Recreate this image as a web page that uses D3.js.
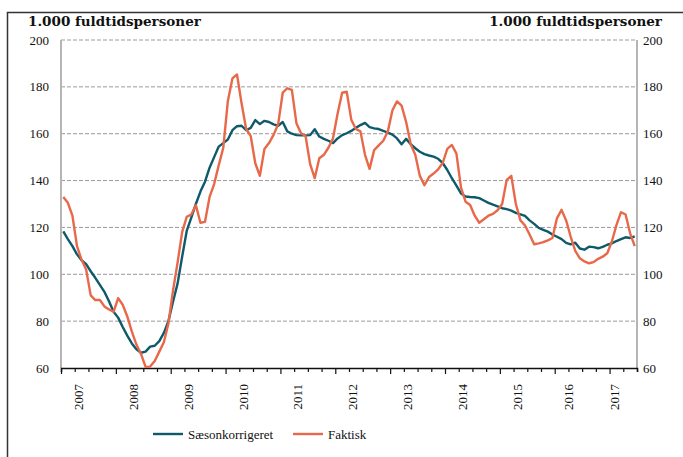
<!DOCTYPE html>
<html>
<head>
<meta charset="utf-8">
<script src="https://cdnjs.cloudflare.com/ajax/libs/d3/7.8.5/d3.min.js"></script>
<style>
  body { margin: 0; background: #fff; }
  text { font-family: "Liberation Serif", "DejaVu Serif", serif; fill: #111; }
</style>
</head>
<body>
<div id="main"></div>
<script>

// monthly series, jan 2007 - jun 2017 (1.000 fuldtidspersoner)
var startYear = 2007;

var saesonkorrigeret = [
  118.3, 115, 112, 108.5, 106, 104.3, 101.3, 98.5, 95.5, 92.5, 88.5, 84,
  81.5, 77.5, 73.8, 70.5, 68, 66.5, 67, 69.1, 69.5, 71.5, 75, 80,
  88.3, 96, 107.5, 118.5, 124.2, 130, 135.3, 139.5, 145.5, 150, 154.5, 156,
  157.5, 161.5, 163.2, 163.4, 161.5, 162.5, 165.8, 164.1, 165.5, 165, 164, 163.4,
  165, 161, 160, 159.4, 159.3, 159.3, 159.4, 161.9, 158.8, 157.8, 157, 156,
  158, 159.4, 160.2, 161.2, 162.5, 163.7, 164.6, 162.8, 162.3, 162, 161.2, 160.5,
  159.6, 158, 155.5, 157.8, 155.5, 153.8, 152.3, 151.3, 150.7, 150.2, 149.3, 147.5,
  144.5, 141, 137.8, 134.5, 133.2, 133, 132.9, 132.5, 131.5, 130.5, 129.7, 129,
  128.2, 127.8, 127.2, 126.2, 125.6, 124.9, 123, 121.5, 119.8, 119, 118.2, 117,
  116, 115, 113.4, 112.8, 113.5, 111, 110.5, 111.8, 111.6, 111.1, 111.7, 112.6,
  113.2, 114.2, 115, 115.8, 115.5, 116.2
];

var faktisk = [
  133, 130.5, 125, 112, 106.2, 102, 91, 89, 89, 86.3, 85, 84,
  89.8, 87, 82, 75.5, 70, 66, 60.5, 60.6, 63, 67, 71, 79,
  93, 105, 118, 124.5, 125.5, 129.5, 122, 122.4, 133, 138.5, 146.5, 154,
  174, 183.6, 185.3, 173, 162, 159, 147.4, 142, 153.5, 156, 159.5, 164,
  177.5, 179.4, 178.7, 164.5, 160.2, 159, 147, 141, 149.5, 151, 154, 158,
  168.5, 177.5, 177.9, 166, 162, 161, 151, 145, 153, 155, 157, 161,
  170, 173.8, 172, 165, 155.5, 151, 142, 138, 141.5, 143, 144.8, 147.5,
  153.5, 155.2, 151.5, 137, 131, 129.6, 125, 122, 123.5, 125, 125.8, 127.3,
  130, 140.3, 142, 130, 123, 120.8, 117, 112.8, 113.2, 113.7, 114.5, 115.5,
  124, 127.5, 123, 116, 110, 106.8, 105.5, 104.7, 105.2, 106.6, 107.5, 109,
  114, 121, 126.5, 125.5, 117.5, 112
];

var yTicks = [60, 80, 100, 120, 140, 160, 180, 200];
var years = [2007, 2008, 2009, 2010, 2011, 2012, 2013, 2014, 2015, 2016, 2017];
var seriesNames = ['Sæsonkorrigeret', 'Faktisk'];
var seriesColors = ['#0e5a6b', '#e8684a'];
var unitLabel = '1.000 fuldtidspersoner';

drawChart();

function drawChart() {
  var width = 683;
  var height = 457;
  var margin = {top: 40, right: 46, bottom: 89, left: 61};
  var nMonths = saesonkorrigeret.length;

  var svg = d3.select("#main").append("svg")
    .attr("width", width)
    .attr("height", height)
    .style("background", "#fff");

  // outer frame (left + top)
  svg.append("path")
    .attr("d", "M7.5," + height + "V12.5H" + width)
    .attr("fill", "none")
    .attr("stroke", "#333")
    .attr("stroke-width", 1.5);

  var x = d3.scaleLinear()
    .domain([0, nMonths])
    .range([margin.left, width - margin.right]);

  var y = d3.scaleLinear()
    .domain([60, 200])
    .range([height - margin.bottom, margin.top]);

  // grid
  svg.append("g").selectAll("line")
    .data(yTicks.filter(function(d) { return d > 60; }))
    .enter().append("line")
    .attr("x1", x(0))
    .attr("x2", x(nMonths))
    .attr("y1", function(d) { return y(d); })
    .attr("y2", function(d) { return y(d); })
    .attr("stroke", "#9a9a9a")
    .attr("stroke-width", 1)
    .attr("stroke-dasharray", "4,2");

  // side axes
  svg.append("line")
    .attr("x1", x(0)).attr("x2", x(0))
    .attr("y1", y(200)).attr("y2", y(60))
    .attr("stroke", "#b5b5b5").attr("stroke-width", 2);
  svg.append("line")
    .attr("x1", x(nMonths)).attr("x2", x(nMonths))
    .attr("y1", y(200)).attr("y2", y(60))
    .attr("stroke", "#b5b5b5").attr("stroke-width", 2);

  // y labels both sides
  svg.append("g").selectAll("text")
    .data(yTicks)
    .enter().append("text")
    .attr("x", x(0) - 12)
    .attr("y", function(d) { return y(d); })
    .attr("dy", "0.35em")
    .attr("text-anchor", "end")
    .style("font-size", "13px")
    .text(function(d) { return d; });

  svg.append("g").selectAll("text")
    .data(yTicks)
    .enter().append("text")
    .attr("x", x(nMonths) + 6)
    .attr("y", function(d) { return y(d); })
    .attr("dy", "0.35em")
    .attr("text-anchor", "start")
    .style("font-size", "13px")
    .text(function(d) { return d; });

  // unit titles
  svg.append("text")
    .attr("x", 28)
    .attr("y", 26)
    .style("font-family", "'DejaVu Serif', serif")
    .style("font-size", "13.5px")
    .style("font-weight", "bold")
    .text(unitLabel);
  svg.append("text")
    .attr("x", 662)
    .attr("y", 26)
    .attr("text-anchor", "end")
    .style("font-family", "'DejaVu Serif', serif")
    .style("font-size", "13.5px")
    .style("font-weight", "bold")
    .text(unitLabel);

  // x axis with quarterly ticks
  var qTicks = d3.range(0, nMonths + 1, 3);
  var xAxis = d3.axisBottom(x)
    .tickValues(qTicks)
    .tickSize(4)
    .tickFormat("");

  var gx = svg.append("g")
    .attr("transform", "translate(0," + y(60) + ")")
    .call(xAxis);
  gx.select(".domain").attr("stroke", "#111").attr("stroke-width", 1.5);
  gx.selectAll(".tick line")
    .attr("stroke", "#111")
    .attr("stroke-width", 1.2)
    .attr("y2", function(d) { return d % 12 == 0 ? 6 : 4; });

  svg.append("g").selectAll("text")
    .data(years)
    .enter().append("text")
    .attr("transform", function(d) {
      var start = (d - startYear) * 12;
      var off = Math.min(3.8, (nMonths - start) / 6);
      return "translate(" + x(start + off) + "," + (y(60) + 16) + ") rotate(-90)";
    })
    .attr("dy", "0.35em")
    .attr("text-anchor", "end")
    .style("font-size", "13px")
    .text(function(d) { return d; });

  // lines
  var line = d3.line()
    .x(function(d, i) { return x(i + 0.5); })
    .y(function(d) { return y(d); });

  var allSeries = [saesonkorrigeret, faktisk];
  allSeries.forEach(function(s, k) {
    svg.append("path")
      .datum(s)
      .attr("d", line)
      .attr("fill", "none")
      .attr("stroke", seriesColors[k])
      .attr("stroke-width", 2.4)
      .attr("stroke-linejoin", "round");
  });

  // legend
  var legendX = [153, 293];
  var legend = svg.append("g").selectAll("g")
    .data(seriesNames)
    .enter().append("g")
    .attr("transform", function(d, i) { return "translate(" + legendX[i] + ",434)"; });
  legend.append("line")
    .attr("x1", 0).attr("x2", 30)
    .attr("stroke", function(d, i) { return seriesColors[i]; })
    .attr("stroke-width", 2.4);
  legend.append("text")
    .attr("x", 35)
    .attr("dy", "0.35em")
    .style("font-size", "13px")
    .text(function(d) { return d; });
}
</script>
</body>
</html>
